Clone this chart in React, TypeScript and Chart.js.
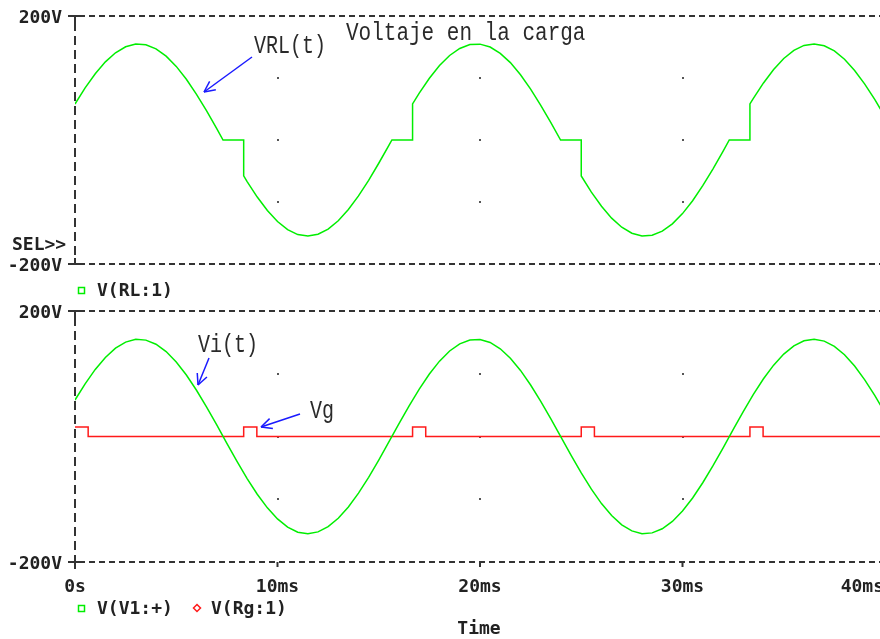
import { useEffect, useRef } from 'react';
import { Chart, registerables } from 'chart.js';
Chart.register(...registerables);

// ---- data ----
const sampleTimes = [
  0, 0.5, 1, 1.5, 2, 2.5, 3, 3.5, 4, 4.5, 5, 5.5, 6, 6.5, 7, 7.5, 8, 8.5, 9, 9.5,
  10, 10.5, 11, 11.5, 12, 12.5, 13, 13.5, 14, 14.5, 15, 15.5, 16, 16.5, 17, 17.5, 18, 18.5, 19, 19.5,
  20, 20.5, 21, 21.5, 22, 22.5, 23, 23.5, 24, 24.5, 25, 25.5, 26, 26.5, 27, 27.5, 28, 28.5, 29, 29.5,
  30, 30.5, 31, 31.5, 32, 32.5, 33, 33.5, 34, 34.5, 35, 35.5, 36, 36.5, 37, 37.5, 38, 38.5, 39, 39.5, 40,
];
const viValues = [
  58.1, 84.0, 106.9, 126.0, 140.7, 150.4, 154.8, 153.6, 147.1, 135.3,
  118.7, 98.0, 73.7, 46.9, 18.4, -10.8, -39.6, -67.0, -92.0, -113.7,
  -131.4, -144.5, -152.5, -155.0, -152.0, -143.7, -130.3, -112.2, -90.2, -65.0,
  -37.5, -8.7, 20.5, 48.9, 75.6, 99.6, 120.1, 136.3, 147.7, 153.9,
  154.6, 149.9, 139.8, 124.8, 105.3, 82.1, 56.0, 28.0, -1.1, -30.1,
  -58.1, -84.0, -106.9, -126.0, -140.7, -150.4, -154.8, -153.6, -147.1, -135.3,
  -118.7, -98.0, -73.7, -46.9, -18.4, 10.8, 39.6, 67.0, 92.0, 113.7,
  131.4, 144.5, 152.5, 155.0, 152.0, 143.7, 130.3, 112.2, 90.2, 65.0, 37.5,
];
const vrlTimes = [
  0, 0.5, 1, 1.5, 2, 2.5, 3, 3.5, 4, 4.5, 5, 5.5, 6, 6.5, 7, 7.31, 8.33, 8.33,
  8.5, 9, 9.5, 10, 10.5, 11, 11.5, 12, 12.5, 13, 13.5, 14, 14.5, 15, 15.5, 15.65, 16.67, 16.67,
  17, 17.5, 18, 18.5, 19, 19.5, 20, 20.5, 21, 21.5, 22, 22.5, 23, 23.5, 23.98, 25, 25,
  25.5, 26, 26.5, 27, 27.5, 28, 28.5, 29, 29.5, 30, 30.5, 31, 31.5, 32, 32.31, 33.33, 33.33,
  33.5, 34, 34.5, 35, 35.5, 36, 36.5, 37, 37.5, 38, 38.5, 39, 39.5, 40,
];
const vrlValues = [
  58.1, 84.0, 106.9, 126.0, 140.7, 150.4, 154.8, 153.6, 147.1, 135.3, 118.7, 98.0, 73.7, 46.9, 18.4, 0, 0, -57.8,
  -67.0, -92.0, -113.7, -131.4, -144.5, -152.5, -155.0, -152.0, -143.7, -130.3, -112.2, -90.2, -65.0, -37.5, -8.7, 0, 0, 58.2,
  75.6, 99.6, 120.1, 136.3, 147.7, 153.9, 154.6, 149.9, 139.8, 124.8, 105.3, 82.1, 56.0, 28.0, 0, 0, -58.1,
  -84.0, -106.9, -126.0, -140.7, -150.4, -154.8, -153.6, -147.1, -135.3, -118.7, -98.0, -73.7, -46.9, -18.4, 0, 0, 58.1,
  67.0, 92.0, 113.7, 131.4, 144.5, 152.5, 155.0, 152.0, 143.7, 130.3, 112.2, 90.2, 65.0, 37.5,
];
const vgTimes = [
  0, 0.65, 0.65, 8.33, 8.33, 8.98, 8.98, 16.67, 16.67, 17.32, 17.32,
  25.0, 25.0, 25.65, 25.65, 33.33, 33.33, 33.98, 33.98, 40,
];
const vgValues = [
  15, 15, 0, 0, 15, 15, 0, 0, 15, 15, 0,
  0, 15, 15, 0, 0, 15, 15, 0, 0,
];
const xTickValues = [0, 10, 20, 30, 40];
const xTickLabels = ['0s', '10ms', '20ms', '30ms', '40ms'];
const yTickValues = [200, -200];
const yTickLabels = ['200V', '-200V'];
const gridXValues = [10, 20, 30];
const gridYValues = [100, 0, -100];

const GREEN = '#00ee00';
const RED = '#ff1a1a';
const BLUE = '#1a1aff';
const INK = '#222222';
const BOLD = 'bold 18px "DejaVu Sans Mono", monospace';
const W = 895;
const H = 639;

function toPoints(ts: number[], vs: number[]) {
  return ts.map((t, i) => ({ x: t, y: vs[i] }));
}

function line(ctx: CanvasRenderingContext2D, x1: number, y1: number, x2: number, y2: number) {
  ctx.beginPath();
  ctx.moveTo(x1, y1);
  ctx.lineTo(x2, y2);
  ctx.stroke();
}

function thinText(ctx: CanvasRenderingContext2D, text: string, x: number, baseline: number, size: number) {
  ctx.save();
  ctx.translate(x, baseline);
  ctx.scale(1, 1.25);
  ctx.font = `${size}px "Liberation Mono", monospace`;
  ctx.fillStyle = '#2a2a2a';
  ctx.textAlign = 'left';
  ctx.textBaseline = 'alphabetic';
  ctx.fillText(text, 0, 0);
  ctx.restore();
}

function arrow(ctx: CanvasRenderingContext2D, x1: number, y1: number, x2: number, y2: number) {
  ctx.save();
  ctx.strokeStyle = BLUE;
  ctx.lineWidth = 1.5;
  ctx.setLineDash([]);
  line(ctx, x1, y1, x2, y2);
  const a = Math.atan2(y1 - y2, x1 - x2);
  const len = 12;
  const spread = 0.45;
  line(ctx, x2, y2, x2 + len * Math.cos(a + spread), y2 + len * Math.sin(a + spread));
  line(ctx, x2, y2, x2 + len * Math.cos(a - spread), y2 + len * Math.sin(a - spread));
  ctx.restore();
}

function drawFrame(chart: any, isBottom: boolean) {
  const ctx: CanvasRenderingContext2D = chart.ctx;
  const xs = chart.scales.x;
  const ys = chart.scales.y;
  const left = xs.getPixelForValue(0);
  const yTop = ys.getPixelForValue(200);
  const yBot = ys.getPixelForValue(-200);
  ctx.save();
  ctx.strokeStyle = '#333';
  ctx.lineWidth = 2;
  ctx.setLineDash([6, 4]);
  line(ctx, left + 4, yTop, W, yTop);
  line(ctx, left + 4, yBot, W, yBot);
  ctx.setLineDash([9, 5]);
  line(ctx, left, yTop + 6, left, yBot - 6);
  ctx.setLineDash([]);
  // corner marks
  line(ctx, left - 7, yTop, left + 4, yTop);
  line(ctx, left, yTop, left, yTop + 6);
  line(ctx, left - 7, yBot, left + 4, yBot);
  line(ctx, left, yBot - 6, left, yBot + (isBottom ? 7 : 0));
  // x ticks on the bottom line
  if (isBottom) {
    for (const v of xTickValues.slice(1)) {
      const x = xs.getPixelForValue(v);
      line(ctx, x, yBot, x, yBot + 5);
    }
  }
  // grid dots
  ctx.fillStyle = '#555';
  for (const gx of gridXValues) {
    for (const gy of gridYValues) {
      const x = Math.round(xs.getPixelForValue(gx));
      const y = Math.round(ys.getPixelForValue(gy));
      ctx.fillRect(x - 1, y - 1, 2, 2);
    }
  }
  // y labels
  ctx.font = BOLD;
  ctx.fillStyle = INK;
  ctx.textAlign = 'right';
  ctx.textBaseline = 'middle';
  yTickValues.forEach((v, i) => {
    ctx.fillText(yTickLabels[i], left - 13, ys.getPixelForValue(v) + 2);
  });
  ctx.restore();
}

function makeFramePlugin(isBottom: boolean) {
  return {
    id: isBottom ? 'frameBottom' : 'frameTop',
    beforeDatasetsDraw(chart: any) {
      drawFrame(chart, isBottom);
    },
    afterDatasetsDraw(chart: any) {
      const ctx: CanvasRenderingContext2D = chart.ctx;
      const xs = chart.scales.x;
      const ys = chart.scales.y;
      const left = xs.getPixelForValue(0);
      const yBot = ys.getPixelForValue(-200);
      ctx.save();
      ctx.font = BOLD;
      ctx.fillStyle = INK;
      ctx.textBaseline = 'middle';
      ctx.textAlign = 'left';
      if (!isBottom) {
        ctx.fillText('SEL>>', 12, 245);
        // legend
        ctx.strokeStyle = GREEN;
        ctx.lineWidth = 1.5;
        ctx.strokeRect(left + 3.5, 287.5, 6, 6);
        ctx.fillText('V(RL:1)', 97, 291);
        thinText(ctx, 'Voltaje en la carga', 346, 40, 21);
        thinText(ctx, 'VRL(t)', 254, 53, 20);
        arrow(ctx, 252, 57, 204, 92);
      } else {
        // x tick labels
        xTickValues.forEach((v, i) => {
          const w = ctx.measureText(xTickLabels[i]).width;
          let cx = xs.getPixelForValue(v);
          if (cx + w / 2 > 884) cx = 884 - w / 2;
          ctx.textAlign = 'center';
          ctx.fillText(xTickLabels[i], cx, yBot + 25);
        });
        ctx.textAlign = 'center';
        ctx.fillText('Time', 479, 629);
        ctx.textAlign = 'left';
        ctx.strokeStyle = GREEN;
        ctx.lineWidth = 1.5;
        ctx.strokeRect(left + 3.5, 605.5, 6, 6);
        ctx.fillText('V(V1:+)', 97, 609);
        ctx.strokeStyle = RED;
        ctx.beginPath();
        ctx.moveTo(197, 604.5);
        ctx.lineTo(200.5, 608);
        ctx.lineTo(197, 611.5);
        ctx.lineTo(193.5, 608);
        ctx.closePath();
        ctx.stroke();
        ctx.fillText('V(Rg:1)', 211, 609);
        thinText(ctx, 'Vi(t)', 198, 352, 20);
        thinText(ctx, 'Vg', 310, 418, 20);
        arrow(ctx, 209, 358, 198, 385);
        arrow(ctx, 300, 414, 261, 427);
      }
      ctx.restore();
    },
  };
}

function baseOptions(padTop: number, padBottom: number): any {
  return {
    responsive: false,
    animation: false,
    events: [],
    layout: { padding: { left: 75, right: 10, top: padTop, bottom: padBottom } },
    scales: {
      x: { type: 'linear', min: 0, max: 40, display: false },
      y: { type: 'linear', min: -200, max: 200, display: false },
    },
    plugins: { legend: { display: false }, tooltip: { enabled: false } },
    elements: { point: { radius: 0 }, line: { tension: 0 } },
  };
}

export default function App() {
  const topRef = useRef<HTMLCanvasElement>(null);
  const botRef = useRef<HTMLCanvasElement>(null);

  useEffect(() => {
    const top = new Chart(topRef.current as HTMLCanvasElement, {
      type: 'line',
      data: {
        datasets: [
          {
            label: 'V(RL:1)',
            data: toPoints(vrlTimes, vrlValues),
            borderColor: GREEN,
            borderWidth: 1.5,
            pointRadius: 0,
            fill: false,
          },
        ],
      },
      options: baseOptions(16, H - 264),
      plugins: [makeFramePlugin(false)],
    } as any);
    const bot = new Chart(botRef.current as HTMLCanvasElement, {
      type: 'line',
      data: {
        datasets: [
          {
            label: 'V(V1:+)',
            data: toPoints(sampleTimes, viValues),
            borderColor: GREEN,
            borderWidth: 1.5,
            pointRadius: 0,
            fill: false,
          },
          {
            label: 'V(Rg:1)',
            data: toPoints(vgTimes, vgValues),
            borderColor: RED,
            borderWidth: 1.5,
            pointRadius: 0,
            fill: false,
          },
        ],
      },
      options: baseOptions(311, H - 562),
      plugins: [makeFramePlugin(true)],
    } as any);
    return () => {
      top.destroy();
      bot.destroy();
    };
  }, []);

  const canvasStyle: any = { position: 'absolute', left: 0, top: 0, width: W, height: H };
  return (
    <div
      style={{
        position: 'fixed',
        left: 0,
        top: 0,
        width: 880,
        height: 639,
        overflow: 'hidden',
        background: '#ffffff',
      }}
    >
      <canvas ref={topRef} width={W} height={H} style={canvasStyle} />
      <canvas ref={botRef} width={W} height={H} style={canvasStyle} />
    </div>
  );
}
